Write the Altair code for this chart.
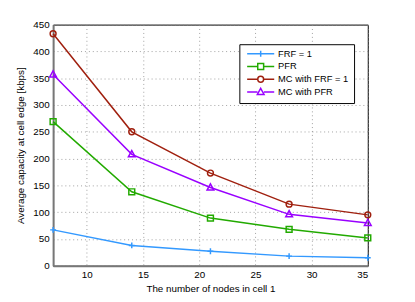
import altair as alt
import pandas as pd

nodes = [7, 14, 21, 28, 35]
series_names = ["FRF = 1", "PFR", "MC with FRF = 1", "MC with PFR"]
frf1 = [67, 38, 27, 18, 15]
pfr = [269, 138, 89, 68, 52]
mc_frf1 = [433, 250, 173, 115, 95]
mc_pfr = [357, 208, 146, 96, 80]
colors = ["#3399ff", "#22aa00", "#a0200f", "#9900ff"]

rows = []
for name, vals in zip(series_names, [frf1, pfr, mc_frf1, mc_pfr]):
    for n, v in zip(nodes, vals):
        rows.append({"nodes": n, "cap": v, "series": name})
df = pd.DataFrame(rows)

marker_paths = [
    "M-1,0H1M0,-1V1",
    "M-1,-1H1V1H-1Z",
    "M-1,0A1,1,0,1,1,1,0A1,1,0,1,1,-1,0Z",
    "M0,-1.25L1.15,0.85H-1.15Z",
]
legend_paths = [
    "M-4.6,0H4.6M0,-1V1",
    "M-4.6,0H-1M1,0H4.6M-1,-1H1V1H-1Z",
    "M-4.6,0H-1M1,0H4.6M-1,0A1,1,0,1,1,1,0A1,1,0,1,1,-1,0Z",
    "M-4.6,0H-1.1M1.1,0H4.6M0,-1.25L1.15,0.85H-1.15Z",
]

xenc = alt.X("nodes:Q", scale=alt.Scale(domain=[7, 35], nice=False, zero=False),
             axis=alt.Axis(values=[10, 15, 20, 25, 30, 35], title="The number of nodes in cell 1"))
yenc = alt.Y("cap:Q", scale=alt.Scale(domain=[0, 450], nice=False),
             axis=alt.Axis(values=list(range(0, 451, 50)), title="Average capacity at cell edge [kbps]"))
color_nolegend = alt.Color("series:N", scale=alt.Scale(domain=series_names, range=colors), legend=None)

lines = alt.Chart(df).mark_line(strokeWidth=1.5).encode(
    x=xenc, y=yenc, color=color_nolegend, detail="series:N")

points = alt.Chart(df).mark_point(filled=False, strokeWidth=1.5, size=36, opacity=1).encode(
    x=xenc, y=yenc, color=color_nolegend,
    shape=alt.Shape("series:N", scale=alt.Scale(domain=series_names, range=marker_paths), legend=None))

dummy = alt.Chart(df).mark_point(filled=False, strokeWidth=1.5, size=36, opacity=0).encode(
    x=xenc, y=yenc,
    color=alt.Color("series:N", scale=alt.Scale(domain=series_names, range=colors),
                    legend=alt.Legend(title=None)),
    shape=alt.Shape("series:N", scale=alt.Scale(domain=series_names, range=legend_paths),
                    legend=alt.Legend(title=None)))

chart = alt.layer(lines, points, dummy).resolve_scale(
    shape="independent", color="independent"
).properties(
    width=321, height=246,
    autosize=alt.AutoSizeParams(type="none"),
    padding={"left": 46, "top": 14, "right": 40, "bottom": 34},
).configure_view(stroke="black", strokeWidth=1).configure_axis(
    labelFont="Liberation Sans", titleFont="Liberation Sans",
    labelFontSize=10, titleFontSize=10, labelColor="black", titleColor="black",
    titleFontWeight="normal", gridDash=[1, 3], gridColor="#888", gridOpacity=0.8,
    domainColor="#777", domainWidth=2, ticks=False, labelPadding=4,
).configure_axisX(titlePadding=4).configure_axisY(titlePadding=8).configure_legend(
    orient="none", legendX=190, legendY=20, strokeColor="black", fillColor="white",
    padding=5, labelFont="Liberation Sans", labelFontSize=9.5, labelColor="black",
    symbolOpacity=1, symbolStrokeWidth=1.5, symbolSize=36, labelOffset=13,
    rowPadding=0, symbolOffset=12,
)

chart.save("out.html", embed_options={"renderer": "svg", "actions": False})
